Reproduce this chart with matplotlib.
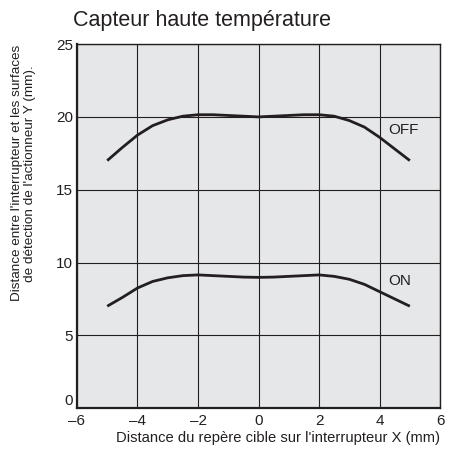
import matplotlib
matplotlib.use('Agg')
import matplotlib.pyplot as plt

plt.rcParams['font.family'] = ['Liberation Sans', 'DejaVu Sans']

# curves (0.5 mm steps)
x_pos = [-5, -4.5, -4, -3.5, -3, -2.5, -2, -1.5, -1, -0.5, 0,
         0.5, 1, 1.5, 2, 2.5, 3, 3.5, 4, 4.5, 5]
off_vals = [17.0, 17.9, 18.75, 19.4, 19.8, 20.05, 20.15, 20.15, 20.1, 20.05, 20.0,
            20.05, 20.1, 20.15, 20.15, 20.05, 19.75, 19.3, 18.6, 17.8, 17.0]
on_vals = [7.0, 7.6, 8.25, 8.7, 8.95, 9.1, 9.15, 9.1, 9.05, 9.0, 8.98,
           9.0, 9.05, 9.1, 9.15, 9.05, 8.85, 8.5, 8.0, 7.5, 7.0]
x_ticks = [-6, -4, -2, 0, 2, 4, 6]
x_tick_labels = ['\u20136', '\u20134', '\u20132', '0', '2', '4', '6']
y_ticks = [0, 5, 10, 15, 20, 25]

fig = plt.figure(figsize=(4.5, 4.5), dpi=100)
ax = fig.add_axes([0.171, 0.093, 0.807, 0.809])
ax.set_facecolor('#e6e7e8')

ax.plot(x_pos, off_vals, color='#231f20', lw=2.0, solid_capstyle='butt')
ax.plot(x_pos, on_vals, color='#231f20', lw=2.0, solid_capstyle='butt')
ax.text(4.28, 19.1, 'OFF', fontsize=11, color='#231f20', va='center')
ax.text(4.28, 8.7, 'ON', fontsize=11, color='#231f20', va='center')

ax.set_xlim(-6, 6)
ax.set_ylim(0, 25)
ax.set_xticks(x_ticks)
ax.set_xticklabels(x_tick_labels)
ax.set_yticks(y_ticks)
ax.tick_params(length=0, labelsize=11, colors='#231f20')
ax.tick_params(axis='x', pad=4)
ax.tick_params(axis='y', pad=3)
ax.grid(True, color='#231f20', lw=0.8)
ax.set_axisbelow(True)
for side in ['left', 'bottom']:
    ax.spines[side].set_linewidth(1.6)
for side in ['top', 'right']:
    ax.spines[side].set_linewidth(1.0)
for s in ax.spines.values():
    s.set_color('#231f20')
# nudge the "0" label up so it clears the x tick labels
ax.get_yticklabels()[0].set_va('bottom')

fig.text(0.162, 0.955, 'Capteur haute température', fontsize=15.5,
         color='#231f20', ha='left', va='center')
fig.text(0.052, 0.615,
         "Distance entre l'interrupteur et les surfaces\nde détection de l'actionneur Y (mm).",
         rotation=90, fontsize=9.7, color='#231f20', ha='center', va='center',
         multialignment='center', linespacing=1.15)
fig.text(0.978, 0.027, "Distance du repère cible sur l'interrupteur X (mm)",
         fontsize=10.6, color='#231f20', ha='right', va='center')

fig.savefig('out.png', dpi=100)
